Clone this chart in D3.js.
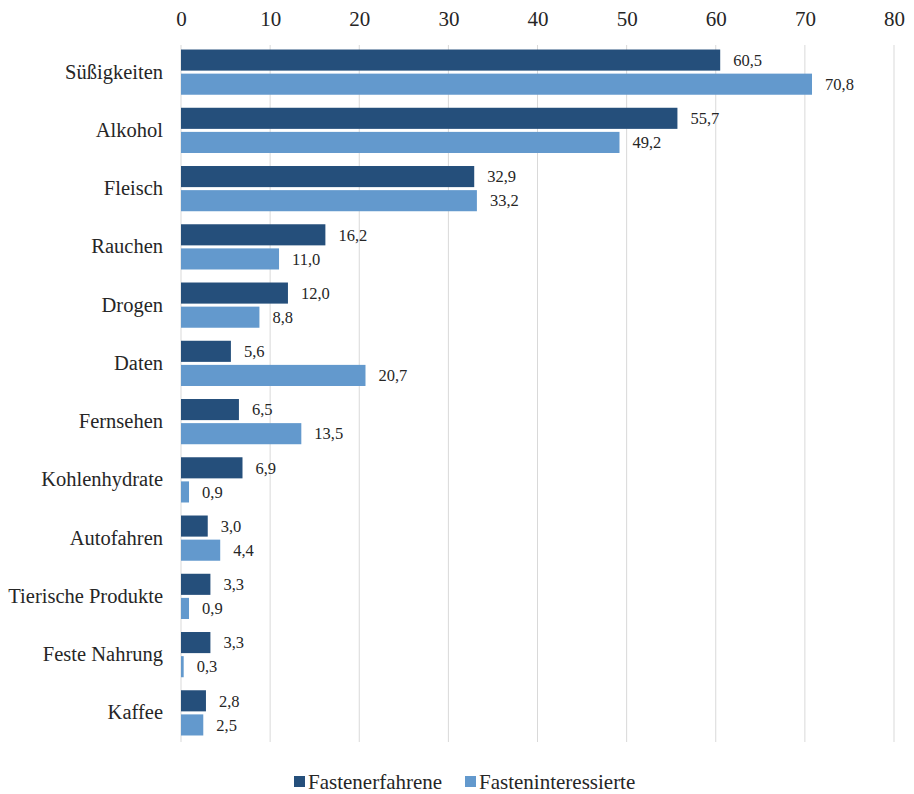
<!DOCTYPE html>
<html>
<head>
<meta charset="utf-8">
<script src="https://cdn.jsdelivr.net/npm/d3@7"></script>
<style>
  body { margin: 0; background: #fff; }
</style>
</head>
<body>
<div id="chart"></div>
<script>
const categories = [
  'Süßigkeiten', 'Alkohol', 'Fleisch', 'Rauchen', 'Drogen', 'Daten',
  'Fernsehen', 'Kohlenhydrate', 'Autofahren', 'Tierische Produkte',
  'Feste Nahrung', 'Kaffee'
];
const seriesNames = ['Fastenerfahrene', 'Fasteninteressierte'];
const erfahrene = [60.5, 55.7, 32.9, 16.2, 12.0, 5.6, 6.5, 6.9, 3.0, 3.3, 3.3, 2.8];
const interessierte = [70.8, 49.2, 33.2, 11.0, 8.8, 20.7, 13.5, 0.9, 4.4, 0.9, 0.3, 2.5];
const xTicks = [0, 10, 20, 30, 40, 50, 60, 70, 80];
const colors = ['#254f7b', '#6399cd'];

const width = 914, height = 794;
const plotLeft = 181, plotRight = 894, plotTop = 43, plotBottom = 742;
const serif = '"Liberation Serif", "Times New Roman", serif';
const textColor = '#262626';

const rows = categories.map((c, i) => ({
  cat: c,
  values: [
    { series: seriesNames[0], value: erfahrene[i] },
    { series: seriesNames[1], value: interessierte[i] }
  ]
}));

const svg = d3.select('#chart').append('svg')
  .attr('width', width)
  .attr('height', height);

const x = d3.scaleLinear().domain([0, 80]).range([plotLeft, plotRight]);
const y = d3.scaleBand().domain(categories).range([plotTop, plotBottom]).padding(0);
const ySub = d3.scaleBand().domain(seriesNames)
  .range([0, y.bandwidth()])
  .paddingInner(0.125)
  .paddingOuter(0.27);

// gridlines
svg.append('g')
  .selectAll('line')
  .data(xTicks)
  .join('line')
  .attr('x1', d => x(d)).attr('x2', d => x(d))
  .attr('y1', plotTop + 2).attr('y2', plotBottom)
  .attr('stroke', '#d9d9d9')
  .attr('stroke-width', 1);

// top axis
const xAxis = d3.axisTop(x).tickValues(xTicks).tickSize(0).tickPadding(0);
const gx = svg.append('g')
  .attr('transform', 'translate(0,26)')
  .call(xAxis);
gx.select('.domain').remove();
gx.selectAll('text')
  .style('font-family', serif)
  .style('font-size', '21px')
  .attr('fill', textColor);

// category axis
const yAxis = d3.axisLeft(y).tickSize(0).tickPadding(18);
const gy = svg.append('g')
  .attr('transform', `translate(${plotLeft},0)`)
  .call(yAxis);
gy.select('.domain').remove();
gy.selectAll('text')
  .style('font-family', serif)
  .style('font-size', '20.5px')
  .attr('fill', textColor);

// bars
const groups = svg.append('g')
  .selectAll('g')
  .data(rows)
  .join('g')
  .attr('transform', d => `translate(0,${y(d.cat)})`);

groups.selectAll('rect')
  .data(d => d.values)
  .join('rect')
  .attr('x', x(0))
  .attr('y', d => ySub(d.series))
  .attr('width', d => x(d.value) - x(0))
  .attr('height', ySub.bandwidth())
  .attr('fill', (d, i) => colors[i]);

const fmt = v => d3.format('.1f')(v).replace('.', ',');
groups.selectAll('text.val')
  .data(d => d.values)
  .join('text')
  .attr('class', 'val')
  .attr('x', d => x(d.value) + 13)
  .attr('y', d => ySub(d.series) + ySub.bandwidth() / 2)
  .attr('dy', '0.35em')
  .style('font-family', serif)
  .style('font-size', '16.5px')
  .attr('fill', textColor)
  .text(d => fmt(d.value));

// legend
const legend = svg.append('g').attr('transform', 'translate(294,781)');
const items = [{ name: seriesNames[0], x: 0 }, { name: seriesNames[1], x: 171 }];
items.forEach((it, i) => {
  legend.append('rect')
    .attr('x', it.x).attr('y', -5)
    .attr('width', 11).attr('height', 11)
    .attr('fill', colors[i]);
  legend.append('text')
    .attr('x', it.x + 14).attr('y', 1)
    .attr('dy', '0.35em')
    .style('font-family', serif)
    .style('font-size', '21px')
    .attr('fill', textColor)
    .text(it.name);
});
</script>
</body>
</html>
